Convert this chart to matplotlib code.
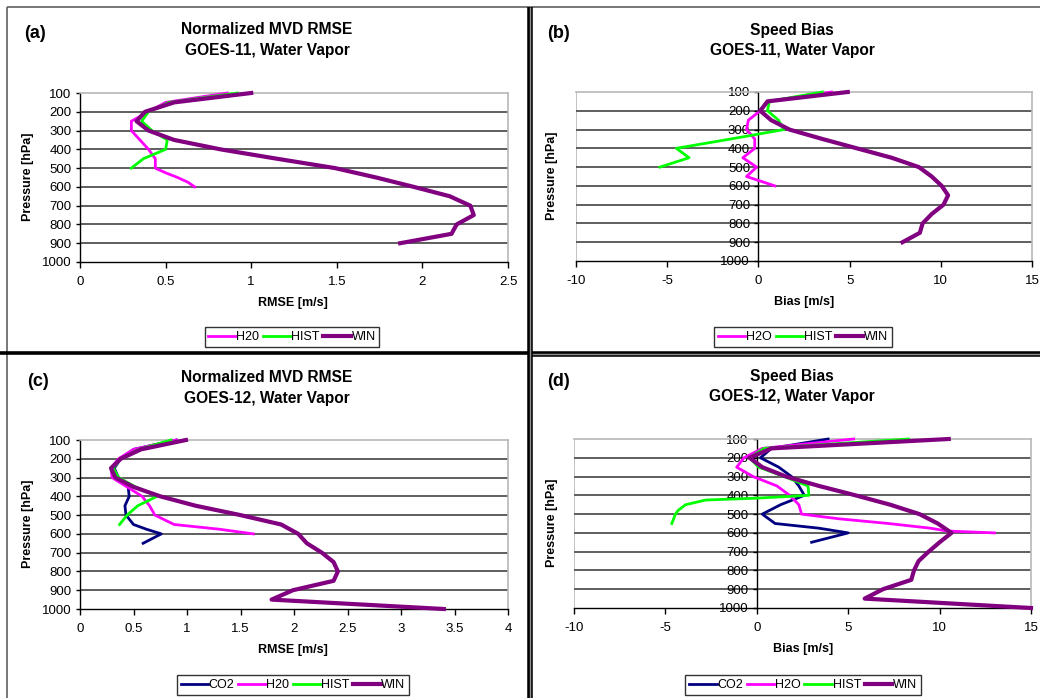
import matplotlib
matplotlib.use("Agg")
import matplotlib.pyplot as plt
from matplotlib.lines import Line2D

plt.rcParams['font.family'] = ['Liberation Sans', 'DejaVu Sans']

# ---------------- data ----------------
PRESSURE_TICKS = [100, 200, 300, 400, 500, 600, 700, 800, 900, 1000]
SERIES_COLORS = {"CO2": "#000080", "H2O": "#FF00FF", "HIST": "#00FF00", "WIN": "#800080"}

# (a) Normalized MVD RMSE, GOES-11
A_WIN_P = [100, 150, 200, 250, 300, 350, 400, 450, 500, 550, 600, 650, 700, 750, 800, 850, 900]
A_WIN = [1.00, 0.55, 0.38, 0.33, 0.40, 0.55, 0.82, 1.15, 1.49, 1.73, 1.95, 2.16, 2.28, 2.30, 2.20, 2.17, 1.87]
A_H2O_P = [100, 150, 200, 250, 300, 350, 400, 450, 500, 525, 550, 575, 600]
A_H2O = [0.86, 0.50, 0.40, 0.30, 0.30, 0.35, 0.40, 0.44, 0.44, 0.50, 0.57, 0.63, 0.67]
A_HIST_P = [100, 150, 200, 250, 300, 350, 400, 450, 500]
A_HIST = [0.92, 0.52, 0.40, 0.36, 0.42, 0.51, 0.50, 0.37, 0.30]

# (b) Speed Bias, GOES-11
B_WIN_P = [100, 150, 200, 250, 300, 350, 400, 450, 500, 550, 600, 650, 700, 750, 800, 850, 900]
B_WIN = [4.9, 0.5, 0.1, 0.7, 1.7, 3.5, 5.4, 7.3, 8.8, 9.5, 10.05, 10.4, 10.15, 9.5, 9.0, 8.85, 7.9]
B_H2O_P = [100, 150, 200, 250, 300, 350, 400, 450, 500, 550, 600]
B_H2O = [4.0, 0.5, 0.1, -0.55, -0.65, -0.2, -0.2, -0.85, -0.1, -0.65, 0.9]
B_HIST_P = [100, 150, 200, 250, 300, 350, 400, 450, 500]
B_HIST = [3.5, 0.6, 0.5, 1.1, 1.4, -1.5, -4.5, -3.8, -5.4]

# (c) Normalized MVD RMSE, GOES-12
C_WIN_P = [100, 150, 200, 250, 300, 350, 400, 450, 500, 550, 600, 650, 700, 750, 800, 850, 900, 950, 1000]
C_WIN = [0.99, 0.57, 0.38, 0.29, 0.33, 0.50, 0.75, 1.08, 1.50, 1.88, 2.04, 2.12, 2.26, 2.37, 2.41, 2.37, 1.99, 1.79, 3.40]
C_H2O_P = [100, 150, 200, 250, 300, 350, 400, 450, 500, 550, 575, 600]
C_H2O = [0.90, 0.50, 0.36, 0.29, 0.30, 0.44, 0.58, 0.65, 0.70, 0.88, 1.30, 1.62]
C_HIST_P = [100, 150, 200, 250, 300, 350, 400, 450, 500, 550]
C_HIST = [0.85, 0.55, 0.38, 0.31, 0.36, 0.52, 0.72, 0.54, 0.44, 0.37]
C_CO2_P = [100, 150, 200, 250, 300, 350, 400, 450, 500, 550, 575, 600, 650]
C_CO2 = [0.90, 0.50, 0.38, 0.32, 0.36, 0.45, 0.46, 0.42, 0.43, 0.50, 0.62, 0.76, 0.59]

# (d) Speed Bias, GOES-12
D_WIN_P = [100, 150, 200, 250, 300, 350, 400, 450, 500, 550, 600, 650, 700, 750, 800, 850, 900, 950, 1000]
D_WIN = [10.5, 0.8, -0.4, 0.3, 1.6, 3.4, 5.4, 7.3, 8.9, 9.9, 10.65, 10.0, 9.4, 8.85, 8.6, 8.45, 6.9, 5.9, 15.0]
D_H2O_P = [100, 150, 200, 250, 300, 350, 400, 450, 500, 525, 550, 575, 590, 600]
D_H2O = [5.3, 0.3, -0.7, -1.1, -0.2, 1.1, 1.8, 2.3, 2.45, 4.5, 7.2, 9.5, 10.4, 13.0]
D_HIST_P = [100, 150, 200, 250, 300, 350, 400, 415, 425, 450, 480, 500, 550]
D_HIST = [8.3, 0.4, -0.4, 0.1, 1.5, 2.8, 2.85, 0.0, -2.8, -3.9, -4.3, -4.45, -4.65]
D_CO2_P = [100, 150, 200, 250, 300, 350, 400, 450, 500, 550, 575, 600, 650]
D_CO2 = [3.9, 0.8, 0.2, 1.2, 1.9, 2.3, 2.6, 1.3, 0.3, 1.0, 3.4, 5.0, 3.0]

RMSE_TICKS_A = [0, 0.5, 1, 1.5, 2, 2.5]
RMSE_TICKS_C = [0, 0.5, 1, 1.5, 2, 2.5, 3, 3.5, 4]
BIAS_TICKS = [-10, -5, 0, 5, 10, 15]

# ---------------- figure ----------------
W, H = 1040, 698
fig = plt.figure(figsize=(W / 100, H / 100), dpi=100)
fig.patch.set_facecolor('white')


def fx(px):
    return px / W


def fy(py):
    return 1 - py / H


def make_axes(left, top, right, bottom):
    return fig.add_axes([fx(left), fy(bottom), (right - left) / W, (bottom - top) / H])


LW = {"CO2": 2.0, "H2O": 2.0, "HIST": 2.0, "WIN": 3.0}


def style_axes(ax, xlim, xticks, tick_fmt, zero_axis):
    ax.set_xlim(*xlim)
    ax.set_ylim(1000, 100)
    ax.set_xticks(xticks)
    ax.set_xticklabels([tick_fmt(t) for t in xticks])
    ax.set_yticks(PRESSURE_TICKS)
    ax.set_yticklabels([str(t) for t in PRESSURE_TICKS])
    for y in PRESSURE_TICKS[1:-1]:
        ax.axhline(y, color='#5e5e5e', lw=1.4, zorder=1)
    ax.spines['top'].set_color('#b8b8b8')
    ax.spines['right'].set_color('#b8b8b8')
    ax.spines['top'].set_linewidth(1.2)
    ax.spines['right'].set_linewidth(1.2)
    ax.spines['bottom'].set_color('black')
    ax.spines['bottom'].set_linewidth(1.0)
    ax.spines['left'].set_color('black')
    ax.spines['left'].set_linewidth(1.0)
    if zero_axis:
        ax.spines['left'].set_position(('data', 0))
        ax.axvline(xlim[0], color='#b8b8b8', lw=1.2, zorder=0.5)
    ax.tick_params(axis='y', direction='out', length=3, width=1, pad=3, labelsize=9.5)
    ax.tick_params(axis='x', direction='out', length=4, width=1, pad=6, labelsize=9.5)
    ax.set_facecolor('white')


def fmt_num(t):
    return ('%g' % t)


def draw(ax, series):
    handles = []
    for name, label, xs, ps in series:
        ax.plot(xs, ps, color=SERIES_COLORS[name], lw=LW[name],
                solid_joinstyle='round', zorder=3 + (1 if name == 'WIN' else 0), clip_on=False)
        handles.append(Line2D([0], [0], color=SERIES_COLORS[name], lw=LW[name], label=label))
    return handles


def add_legend(ax, handles, cx, cy):
    leg = ax.legend(handles=handles, loc='center', bbox_to_anchor=(fx(cx), fy(cy)),
                    bbox_transform=fig.transFigure, ncol=len(handles), frameon=True,
                    fancybox=False, edgecolor='black', fontsize=9, handlelength=2.2,
                    handletextpad=0.05, columnspacing=0.3, borderpad=0.3, borderaxespad=0)
    leg.get_frame().set_linewidth(1.0)


def texts(letter, lx, ly, title1, title2, tx, ty1, ty2, xlabel, xlx, xly, ylx, yly):
    fig.text(fx(lx), fy(ly), letter, fontsize=13, fontweight='bold', ha='center', va='center')
    fig.text(fx(tx), fy(ty1), title1, fontsize=11.2, fontweight='bold', ha='center', va='center')
    fig.text(fx(tx), fy(ty2), title2, fontsize=11.2, fontweight='bold', ha='center', va='center')
    fig.text(fx(xlx), fy(xly), xlabel, fontsize=9, fontweight='bold', ha='center', va='center')
    fig.text(fx(ylx), fy(yly), 'Pressure [hPa]', fontsize=9, fontweight='bold', ha='center',
             va='center', rotation=90)


# (a)
axa = make_axes(80, 93, 508, 262)
style_axes(axa, (0, 2.5), RMSE_TICKS_A, fmt_num, False)
ha = draw(axa, [("H2O", "H20", A_H2O, A_H2O_P), ("HIST", "HIST", A_HIST, A_HIST_P),
                ("WIN", "WIN", A_WIN, A_WIN_P)])
add_legend(axa, ha, 292, 337)
texts('(a)', 35, 33, 'Normalized MVD RMSE', 'GOES-11, Water Vapor', 267, 30, 51,
      'RMSE [m/s]', 293, 303, 28, 177)

# (b)
axb = make_axes(576, 92, 1032, 261)
style_axes(axb, (-10, 15), BIAS_TICKS, fmt_num, True)
hb = draw(axb, [("H2O", "H2O", B_H2O, B_H2O_P), ("HIST", "HIST", B_HIST, B_HIST_P),
                ("WIN", "WIN", B_WIN, B_WIN_P)])
add_legend(axb, hb, 803, 337)
texts('(b)', 559, 33, 'Speed Bias', 'GOES-11, Water Vapor', 792, 30, 50,
      'Bias [m/s]', 804, 302, 552, 176)

# (c)
axc = make_axes(80, 440, 508, 609)
style_axes(axc, (0, 4), RMSE_TICKS_C, fmt_num, False)
hc = draw(axc, [("CO2", "CO2", C_CO2, C_CO2_P), ("H2O", "H20", C_H2O, C_H2O_P),
                ("HIST", "HIST", C_HIST, C_HIST_P), ("WIN", "WIN", C_WIN, C_WIN_P)])
add_legend(axc, hc, 293, 685)
texts('(c)', 38, 382, 'Normalized MVD RMSE', 'GOES-12, Water Vapor', 267, 377, 398,
      'RMSE [m/s]', 293, 650, 28, 524)

# (d)
axd = make_axes(574, 439, 1031, 608)
style_axes(axd, (-10, 15), BIAS_TICKS, fmt_num, True)
hd = draw(axd, [("CO2", "CO2", D_CO2, D_CO2_P), ("H2O", "H2O", D_H2O, D_H2O_P),
                ("HIST", "HIST", D_HIST, D_HIST_P), ("WIN", "WIN", D_WIN, D_WIN_P)])
add_legend(axd, hd, 803, 685)
texts('(d)', 559, 381, 'Speed Bias', 'GOES-12, Water Vapor', 792, 377, 397,
      'Bias [m/s]', 803, 649, 552, 523)

# ---------------- panel borders ----------------
def fline(xs, ys, color, lw):
    fig.add_artist(Line2D([fx(x) for x in xs], [fy(y) for y in ys], color=color, lw=lw,
                          transform=fig.transFigure, solid_capstyle='butt'))


fline([7, 7], [7, H], '#606060', 1.2)          # left edge
fline([7, W], [7, 7], '#606060', 1.2)          # top edge
fline([0, 528], [353, 353], 'black', 2.6)      # left horizontal divider
fline([529, W], [353.5, 353.5], 'black', 4.0)  # right horizontal divider (double)
fline([529, W], [353.5, 353.5], '#909090', 1.0)
fline([529.5, 529.5], [7, H], 'black', 4.0)    # vertical divider (double)
fline([529.5, 529.5], [7, H], '#909090', 1.0)

fig.savefig('out.png', dpi=100, facecolor='white')
